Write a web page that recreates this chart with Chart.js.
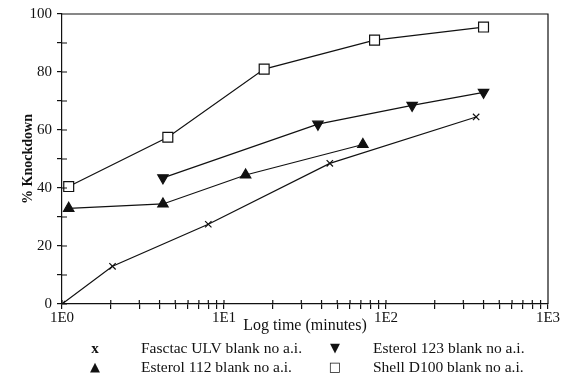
<!DOCTYPE html>
<html>
<head>
<meta charset="utf-8">
<script src="https://cdn.jsdelivr.net/npm/chart.js@4/dist/chart.umd.min.js"></script>
<style>
  html, body { margin: 0; padding: 0; background: #fff; }
  #wrap { position: relative; width: 571px; height: 377px; }
  #legend { position: absolute; left: 0; top: 0; width: 571px; height: 377px; pointer-events: none;
            font-family: "Liberation Serif", serif; font-size: 15.5px; color: #111; }
  .lg { position: absolute; white-space: nowrap; line-height: 18px; }
  .mk { position: absolute; width: 20px; text-align: center; line-height: 18px; font-family: "DejaVu Sans", sans-serif; }
</style>
</head>
<body>
<div id="wrap">
  <canvas id="chart" width="571" height="377"></canvas>
  <div id="legend"></div>
</div>
<script>
// series names, in legend order
const seriesNames = ['Fasctac ULV blank no a.i.', 'Esterol 112 blank no a.i.', 'Esterol 123 blank no a.i.', 'Shell D100 blank no a.i.'];

// time (minutes) and % knockdown
const fasctacTime = [1, 2.05, 8, 45, 360];
const fasctacKd   = [0, 13, 27.5, 48.5, 64.5];
const e112Time    = [1.1, 4.2, 13.6, 72];
const e112Kd      = [33, 34.5, 44.5, 55];
const e123Time    = [4.2, 38, 145, 400];
const e123Kd      = [43.5, 62, 68.5, 73];
const shellTime   = [1.1, 4.5, 17.7, 85, 400];
const shellKd     = [40.5, 57.5, 81, 91, 95.5];

// axis ticks
const xMajor = [1, 10, 100, 1000];
const xMajorLabels = ['1E0', '1E1', '1E2', '1E3'];
const xMinorSteps = [2, 3, 4, 5, 6, 7, 8, 9];
const yLabelled = [0, 20, 40, 60, 80, 100];

const ink = '#111';
const pts = (xs, ys) => xs.map((x, i) => ({ x, y: ys[i] }));

const xTickValues = [];
xMajor.forEach((m, i) => {
  xTickValues.push(m);
  if (i < xMajor.length - 1) xMinorSteps.forEach(s => xTickValues.push(m * s));
});

// top/right frame + inward half of the tick marks
const framePlugin = {
  id: 'frame',
  afterDraw(chart) {
    const { ctx, chartArea: a, scales: { x, y } } = chart;
    ctx.save();
    ctx.strokeStyle = ink;
    ctx.lineWidth = 1.2;
    ctx.beginPath();
    ctx.moveTo(a.left, a.top);
    ctx.lineTo(a.right, a.top);
    ctx.lineTo(a.right, a.bottom);
    x.ticks.forEach(t => {
      const px = x.getPixelForValue(t.value);
      ctx.moveTo(px, a.bottom);
      ctx.lineTo(px, a.bottom - 4);
    });
    y.ticks.forEach(t => {
      const py = y.getPixelForValue(t.value);
      ctx.moveTo(a.left, py);
      ctx.lineTo(a.left + 5, py);
    });
    ctx.stroke();
    ctx.restore();
  }
};

const common = { showLine: true, borderColor: ink, borderWidth: 1.2, pointBorderColor: ink, pointBorderWidth: 1.2 };

new Chart(document.getElementById('chart'), {
  type: 'scatter',
  data: {
    datasets: [
      { ...common, label: seriesNames[0], data: pts(fasctacTime, fasctacKd),
        pointStyle: 'crossRot', pointRadius: 4.5, pointBackgroundColor: ink },
      { ...common, label: seriesNames[1], data: pts(e112Time, e112Kd),
        pointStyle: 'triangle', pointRadius: 6, pointBackgroundColor: ink },
      { ...common, label: seriesNames[2], data: pts(e123Time, e123Kd),
        pointStyle: 'triangle', pointRotation: 180, pointRadius: 6, pointBackgroundColor: ink },
      { ...common, label: seriesNames[3], data: pts(shellTime, shellKd),
        pointStyle: 'rect', pointRadius: 7, pointBackgroundColor: '#fff' }
    ]
  },
  options: {
    responsive: false,
    animation: false,
    layout: { padding: { left: 0, right: 23, top: 14, bottom: 42 } },
    plugins: { legend: { display: false }, tooltip: { enabled: false } },
    scales: {
      x: {
        type: 'logarithmic', min: 1, max: 1000,
        afterBuildTicks: s => { s.ticks = xTickValues.map(v => ({ value: v })); },
        afterFit: s => { s.height = 31; },
        ticks: {
          autoSkip: false, maxRotation: 0, padding: 0, color: ink,
          font: { family: 'Liberation Serif', size: 15 },
          callback: v => { const i = xMajor.indexOf(v); return i >= 0 ? xMajorLabels[i] : ''; }
        },
        grid: { drawOnChartArea: false, tickLength: 5, color: ink, lineWidth: 1.2 },
        border: { color: ink, width: 1.2 },
        title: { display: true, text: 'Log time (minutes)', color: ink, padding: 0,
                 font: { family: 'Liberation Serif', size: 16 } }
      },
      y: {
        min: 0, max: 100,
        afterFit: s => { s.width = 62; },
        ticks: {
          stepSize: 10, padding: 5, color: ink,
          font: { family: 'Liberation Serif', size: 15 },
          callback: v => yLabelled.includes(v) ? v : ''
        },
        grid: { drawOnChartArea: false, tickLength: 5, color: ink, lineWidth: 1.2 },
        border: { color: ink, width: 1.2 },
        title: { display: true, text: '% Knockdown', color: ink, padding: { top: 20, bottom: 0 },
                 font: { family: 'Liberation Serif', size: 14, weight: 'bold' } }
      }
    }
  },
  plugins: [framePlugin]
});

// legend below the plot, two columns
const legendGlyphs = ['x', '\u25B2', '\u25BC', '\u25A1'];
const legendCol = [0, 0, 1, 1];
const legendRow = [0, 1, 0, 1];
const legend = document.getElementById('legend');
seriesNames.forEach((name, i) => {
  const mx = legendCol[i] ? 325 : 85;
  const tx = legendCol[i] ? 373 : 141;
  const cy = legendRow[i] ? 367 : 348;
  const mk = document.createElement('div');
  mk.className = 'mk';
  mk.textContent = legendGlyphs[i];
  mk.style.left = mx + 'px';
  mk.style.top = (cy - 9) + 'px';
  mk.style.fontSize = '13px';
  if (i === 0) { mk.style.fontFamily = 'Liberation Serif'; mk.style.fontWeight = 'bold'; mk.style.fontSize = '15px'; }
  legend.appendChild(mk);
  const lg = document.createElement('div');
  lg.className = 'lg';
  lg.textContent = name;
  lg.style.left = tx + 'px';
  lg.style.top = (cy - 9) + 'px';
  legend.appendChild(lg);
});
</script>
</body>
</html>
